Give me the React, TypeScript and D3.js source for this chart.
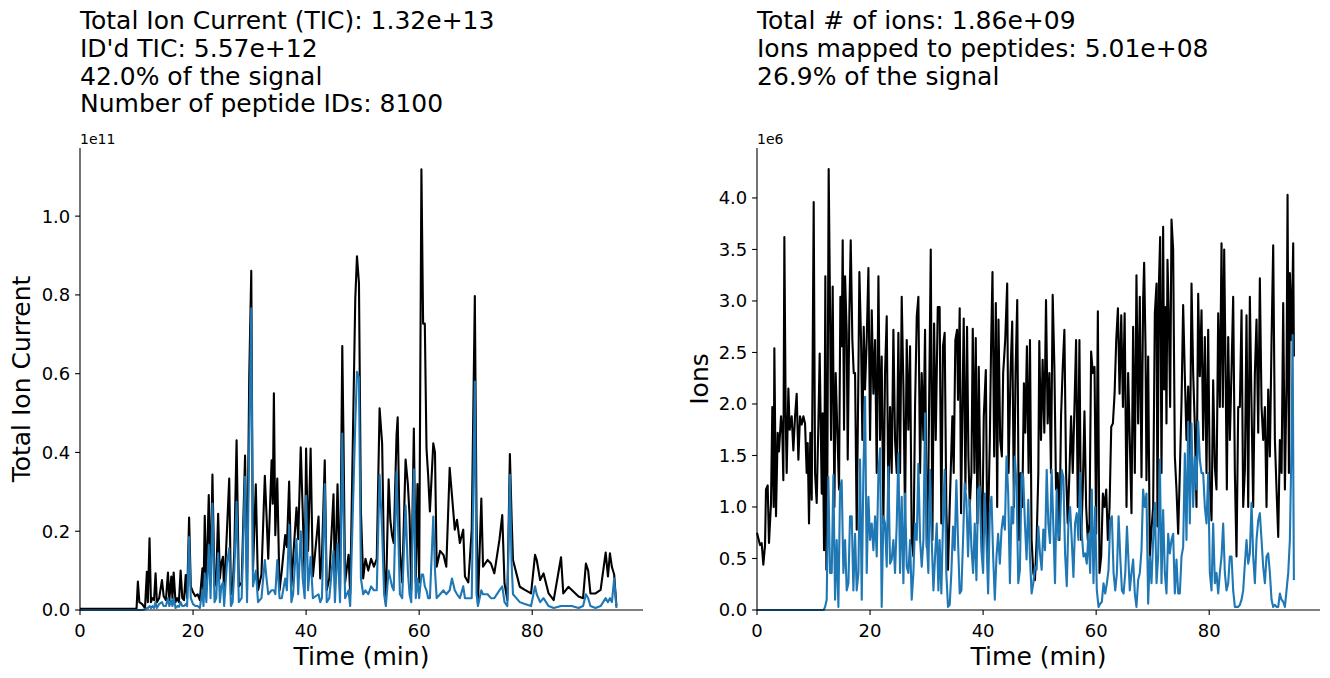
import React from 'react';
import * as d3 from 'd3';

// ---------- Left panel: Total Ion Current (values in units of 1e10) ----------
const ticTimes = [0, 10.0, 10.24, 10.5, 11.0, 11.5, 11.83, 12.0, 12.3, 12.55, 12.8, 13.1, 13.37, 13.6, 14.0, 14.5, 14.8, 15.2, 15.56, 15.8, 16.15, 16.35, 16.57, 16.9, 17.2, 17.5, 17.8, 18.1, 18.4, 18.7, 18.95, 19.3, 19.6, 20.0, 20.4, 20.8, 21.2, 21.66, 21.85, 22.07, 22.35, 22.78, 23.1, 23.43, 23.8, 24.1, 24.44, 24.75, 25.0, 25.3, 25.5, 26.0, 26.4, 26.7, 27.0, 27.3, 27.7, 28.1, 28.6, 29.2, 29.55, 29.94, 30.3, 30.6, 31.1, 31.5, 32.1, 32.7, 33.0, 33.3, 33.9, 34.1, 34.3, 34.55, 34.9, 35.3, 35.7, 36.3, 36.6, 37.0, 37.4, 37.7, 38.3, 38.6, 39.05, 39.4, 39.75, 40.0, 40.35, 40.8, 41.2, 42.2, 42.5, 42.8, 43.3, 43.65, 44.1, 44.85, 45.1, 45.56, 46.0, 46.4, 46.6, 46.9, 47.5, 47.8, 48.7, 49.0, 49.35, 49.7, 50.1, 50.5, 51.0, 51.5, 52.0, 52.5, 53.0, 53.45, 53.8, 54.1, 54.6, 54.9, 55.2, 55.5, 56.0, 56.2, 56.6, 57.0, 57.6, 58.0, 58.3, 58.6, 59.06, 59.4, 59.7, 60.0, 60.4, 60.7, 61.0, 61.3, 61.6, 61.9, 62.5, 62.8, 63.1, 63.7, 64.3, 64.8, 65.4, 65.8, 66.3, 66.7, 67.2, 67.8, 68.1, 68.7, 69.3, 69.85, 70.15, 70.4, 71.0, 71.3, 72.1, 72.7, 73.3, 74.2, 74.7, 75.1, 75.6, 76.05, 76.35, 76.6, 77.2, 77.8, 78.7, 79.8, 80.5, 80.8, 81.4, 82.0, 82.9, 83.8, 85.1, 85.5, 86.4, 87.0, 88.2, 89.0, 89.5, 89.9, 90.3, 91.2, 92.1, 93.0, 93.4, 93.75, 94.1, 94.5, 94.9];
const ticValues = [0.03, 0.03, 0.72, 0.2, 0.15, 0.05, 0.97, 0.2, 1.82, 0.2, 0.3, 0.25, 0.93, 0.2, 0.3, 0.76, 0.35, 0.25, 0.95, 0.25, 0.85, 0.3, 0.95, 0.2, 0.3, 0.2, 1.0, 0.3, 0.25, 0.89, 0.3, 2.35, 0.6, 0.45, 0.35, 0.4, 0.25, 1.06, 0.4, 2.39, 0.5, 2.92, 0.7, 3.44, 0.6, 0.8, 2.44, 0.8, 1.2, 1.35, 0.4, 2.03, 3.34, 0.4, 0.5, 1.5, 4.31, 0.6, 0.7, 3.92, 0.5, 5.92, 8.61, 1.0, 3.19, 0.5, 0.9, 3.41, 2.4, 1.3, 3.8, 2.7, 5.5, 1.9, 3.34, 0.5, 1.0, 1.9, 1.6, 3.26, 0.6, 1.3, 2.6, 1.8, 4.13, 2.5, 0.8, 4.1, 1.5, 4.1, 0.85, 2.37, 0.8, 1.35, 3.8, 0.5, 0.8, 2.94, 0.6, 3.19, 0.5, 6.7, 4.5, 0.7, 1.4, 0.4, 7.9, 8.98, 8.3, 2.5, 0.8, 1.3, 1.0, 1.3, 1.1, 1.3, 5.12, 4.23, 1.1, 0.2, 3.32, 2.28, 1.9, 1.7, 4.44, 4.89, 1.5, 0.7, 3.82, 3.2, 2.4, 0.5, 4.61, 0.7, 3.2, 0.7, 11.19, 7.27, 7.27, 4.1, 3.4, 2.5, 4.23, 4.0, 1.1, 1.5, 1.4, 1.1, 3.61, 2.92, 2.04, 2.29, 1.7, 2.04, 0.85, 0.7, 2.04, 7.97, 2.37, 0.17, 2.83, 1.1, 1.27, 1.18, 0.93, 1.78, 2.41, 0.68, 0.25, 3.96, 2.37, 1.27, 0.93, 0.59, 0.51, 0.42, 1.4, 1.27, 0.76, 0.93, 0.42, 0.25, 1.34, 0.42, 0.59, 0.51, 0.34, 0.3, 1.18, 1.0, 0.42, 0.42, 0.51, 1.46, 0.85, 1.44, 1.09, 0.9, 0.1];
const idTicValues = [0, 0, 0, 0, 0, 0.02, 0.05, 0.05, 0.1, 0.05, 0.1, 0.05, 0.2, 0.05, 0.15, 0.2, 0.1, 0.1, 0.3, 0.1, 0.25, 0.1, 0.3, 0.05, 0.1, 0.08, 0.2, 0.1, 0.1, 0.15, 0.1, 1.85, 0.3, 0.15, 0.1, 0.1, 0.05, 0.5, 0.1, 0.93, 0.2, 1.65, 0.3, 2.7, 0.2, 0.3, 1.44, 0.2, 0.6, 0.7, 0.1, 1.2, 1.57, 0.1, 0.2, 1.0, 2.75, 0.2, 0.3, 3.38, 0.2, 4.23, 7.66, 0.6, 1.0, 0.2, 0.3, 1.27, 0.8, 0.4, 0.5, 0.5, 0.5, 0.4, 1.27, 0.3, 0.3, 0.8, 0.5, 2.16, 0.2, 0.4, 1.8, 0.4, 2.0, 0.8, 0.3, 2.9, 0.5, 1.35, 0.3, 0.4, 0.2, 0.3, 3.2, 0.2, 0.3, 1.5, 0.2, 1.69, 0.2, 4.48, 2.5, 0.3, 0.5, 0.1, 4.74, 6.05, 5.9, 0.8, 0.4, 0.5, 0.4, 0.6, 0.5, 0.5, 3.43, 2.0, 0.4, 0.1, 1.0, 0.8, 0.6, 0.5, 3.5, 2.5, 0.4, 0.3, 2.66, 1.0, 0.4, 0.2, 3.57, 0.3, 0.8, 0.3, 0.9, 0.9, 0.6, 0.5, 0.3, 0.3, 2.37, 1.0, 0.3, 0.4, 0.5, 0.4, 0.5, 0.8, 0.5, 0.4, 0.3, 0.6, 0.3, 0.3, 0.3, 5.8, 0.4, 0.1, 0.5, 0.4, 0.4, 0.3, 0.3, 0.5, 0.6, 0.2, 0.1, 3.43, 1.2, 0.4, 0.3, 0.2, 0.15, 0.1, 0.6, 0.4, 0.2, 0.3, 0.1, 0.05, 0.1, 0.1, 0.1, 0.1, 0.05, 0.1, 0.4, 0.3, 0.1, 0.05, 0.1, 0.3, 0.2, 0.3, 0.2, 0.8, 0.05];

// ---------- Right panel: number of ions (values in units of 1e6) ----------
const ionTimes = [0, 0.53, 0.83, 1.12, 1.42, 1.59, 1.89, 2.12, 2.48, 2.71, 2.95, 3.07, 3.36, 3.66, 3.89, 4.25, 4.48, 4.66, 4.84, 5.07, 5.25, 5.55, 5.78, 6.14, 6.43, 6.73, 7.02, 7.32, 7.61, 7.91, 8.2, 8.5, 8.79, 8.97, 9.2, 9.44, 9.68, 10.03, 10.27, 10.56, 10.86, 11.09, 11.45, 11.62, 11.86, 12.09, 12.27, 12.45, 12.68, 12.92, 13.1, 13.39, 13.69, 13.92, 14.22, 14.51, 14.75, 14.98, 15.16, 15.4, 15.58, 15.87, 16.05, 16.34, 16.58, 16.87, 17.11, 17.35, 17.64, 17.94, 18.11, 18.41, 18.64, 18.88, 19.11, 19.41, 19.71, 20.0, 20.3, 20.59, 20.89, 21.18, 21.48, 21.77, 22.06, 22.36, 22.65, 22.95, 23.24, 23.54, 23.83, 24.13, 24.42, 24.72, 25.01, 25.31, 25.6, 25.9, 26.19, 26.49, 26.78, 27.08, 27.37, 27.67, 27.96, 28.26, 28.55, 28.85, 29.14, 29.44, 29.73, 30.03, 30.32, 30.74, 31.03, 31.33, 31.62, 31.98, 32.31, 32.61, 32.9, 33.2, 33.49, 33.79, 34.09, 34.56, 34.8, 35.09, 35.39, 35.56, 35.86, 36.1, 36.33, 36.57, 36.87, 37.16, 37.4, 37.64, 37.93, 38.17, 38.46, 38.7, 39.0, 39.23, 39.53, 39.82, 40.12, 40.48, 40.77, 41.19, 41.42, 41.66, 41.96, 42.25, 42.49, 42.72, 43.02, 43.32, 43.55, 43.91, 44.26, 44.5, 44.85, 45.15, 45.45, 45.74, 46.04, 46.33, 46.63, 46.93, 47.22, 47.46, 47.75, 48.05, 48.29, 48.58, 48.88, 49.17, 49.47, 49.77, 49.94, 50.24, 50.53, 50.83, 51.13, 51.42, 51.72, 52.01, 52.31, 52.61, 52.9, 53.2, 53.49, 53.79, 54.09, 54.38, 54.68, 54.97, 55.27, 55.56, 55.86, 56.16, 56.45, 56.75, 57.04, 57.34, 57.63, 57.93, 58.23, 58.52, 58.82, 59.11, 59.41, 59.71, 60.0, 60.3, 60.59, 60.89, 61.19, 61.48, 61.78, 62.07, 62.37, 62.67, 62.96, 63.26, 63.55, 63.85, 64.14, 64.44, 64.74, 65.04, 65.37, 65.66, 65.95, 66.25, 66.54, 66.84, 67.13, 67.43, 67.72, 68.02, 68.31, 68.49, 68.73, 68.9, 69.2, 69.49, 69.79, 70.08, 70.38, 70.68, 70.85, 71.09, 71.32, 71.56, 71.85, 72.03, 72.27, 72.44, 72.62, 72.86, 73.09, 73.33, 73.62, 73.92, 74.21, 74.51, 74.8, 75.1, 75.39, 75.69, 75.98, 76.28, 76.57, 76.87, 77.16, 77.46, 77.75, 78.05, 78.34, 78.64, 78.93, 79.23, 79.52, 79.82, 80.11, 80.41, 80.7, 81.0, 81.29, 81.59, 81.88, 82.18, 82.41, 82.65, 82.89, 83.12, 83.36, 83.65, 83.95, 84.24, 84.54, 84.83, 85.13, 85.42, 85.72, 86.01, 86.31, 86.6, 86.9, 87.19, 87.49, 87.78, 88.08, 88.37, 88.67, 88.96, 89.26, 89.55, 89.85, 90.14, 90.44, 90.73, 91.03, 91.32, 91.62, 91.91, 92.21, 92.5, 92.8, 93.09, 93.39, 93.68, 93.86, 94.1, 94.27, 94.57, 94.86, 94.98];
const ionValues = [0.75, 0.63, 0.65, 0.44, 0.63, 1.17, 1.21, 0.65, 1.04, 1.97, 1.0, 2.54, 0.91, 1.72, 1.54, 1.88, 1.72, 1.26, 3.62, 1.91, 1.33, 2.15, 1.75, 1.88, 1.55, 1.88, 2.1, 1.46, 1.88, 1.8, 1.88, 1.81, 1.33, 1.62, 0.84, 1.72, 1.07, 3.96, 1.33, 1.04, 1.81, 2.49, 1.13, 1.91, 0.58, 3.24, 0.39, 1.33, 4.28, 2.94, 1.65, 3.14, 1.0, 2.3, 1.72, 1.17, 3.04, 2.56, 3.59, 1.75, 3.24, 2.69, 1.46, 2.88, 3.59, 2.62, 2.3, 2.3, 0.78, 2.3, 3.28, 2.62, 1.65, 2.75, 2.14, 2.62, 3.32, 1.65, 2.91, 2.1, 2.62, 1.33, 3.24, 1.65, 2.46, 0.84, 2.3, 2.85, 1.0, 1.97, 1.33, 2.72, 1.65, 1.33, 2.69, 1.33, 3.04, 2.17, 0.91, 2.62, 1.75, 2.56, 0.68, 0.52, 1.97, 2.85, 3.04, 1.33, 2.3, 1.65, 2.72, 0.61, 1.33, 3.5, 0.68, 2.78, 1.65, 2.94, 2.94, 0.84, 2.56, 2.69, 1.0, 0.39, 1.0, 1.88, 1.33, 2.62, 2.72, 2.04, 2.93, 0.94, 1.91, 2.83, 1.17, 2.75, 1.49, 1.0, 1.33, 2.73, 1.33, 2.64, 0.84, 2.36, 1.17, 0.58, 1.88, 2.33, 0.52, 1.65, 2.59, 3.28, 1.49, 2.98, 1.0, 2.82, 1.65, 1.49, 2.3, 2.62, 3.17, 1.33, 2.3, 2.8, 1.0, 2.3, 3.01, 0.68, 1.33, 1.0, 2.2, 1.72, 2.56, 1.33, 2.62, 0.68, 0.36, 0.29, 0.68, 1.33, 2.61, 1.65, 2.43, 1.72, 3.01, 1.81, 2.3, 1.33, 3.06, 2.36, 1.17, 1.33, 0.68, 1.88, 2.36, 2.72, 1.33, 0.84, 1.33, 1.88, 1.33, 1.97, 2.62, 1.0, 2.62, 0.68, 1.17, 1.93, 1.0, 0.68, 0.84, 2.51, 2.3, 2.36, 0.74, 2.9, 0.36, 0.52, 1.13, 1.0, 1.17, 0.68, 1.0, 1.78, 1.81, 2.1, 2.62, 2.93, 2.1, 2.86, 1.97, 2.88, 1.0, 2.3, 1.65, 0.94, 2.75, 1.33, 3.25, 1.81, 3.04, 1.29, 3.01, 3.37, 2.56, 1.26, 2.46, 0.52, 0.78, 1.0, 2.88, 3.17, 0.81, 3.14, 3.62, 1.33, 3.72, 2.14, 2.94, 1.81, 3.4, 2.82, 1.97, 3.79, 3.5, 1.49, 1.17, 0.74, 1.33, 2.01, 2.96, 2.27, 1.65, 2.17, 1.33, 3.17, 2.3, 1.78, 1.0, 3.07, 2.27, 2.91, 1.65, 2.65, 1.33, 2.72, 1.23, 0.87, 2.23, 1.39, 1.17, 2.88, 1.97, 3.56, 1.97, 3.5, 2.36, 1.17, 2.65, 1.65, 2.33, 3.04, 1.33, 0.52, 1.97, 1.97, 2.91, 1.0, 1.36, 2.86, 1.0, 3.04, 1.97, 1.0, 2.3, 2.82, 1.72, 3.22, 1.97, 1.65, 1.97, 1.0, 2.14, 1.49, 2.62, 3.54, 1.65, 1.17, 0.71, 1.65, 1.33, 2.98, 1.17, 2.23, 4.03, 1.33, 3.27, 2.62, 3.56, 2.46];

const mappedTimes = [0, 11.8, 12.04, 12.33, 12.62, 12.92, 13.22, 13.51, 13.81, 14.1, 14.4, 14.69, 14.98, 15.28, 15.58, 15.87, 16.17, 16.46, 16.76, 17.05, 17.35, 17.64, 17.94, 18.23, 18.53, 18.82, 19.12, 19.41, 19.71, 20.0, 20.3, 20.59, 20.89, 21.18, 21.48, 21.77, 22.06, 22.36, 22.65, 22.95, 23.24, 23.54, 23.83, 24.13, 24.42, 24.72, 25.01, 25.31, 25.6, 25.9, 26.19, 26.49, 26.78, 27.08, 27.37, 27.67, 27.96, 28.26, 28.55, 28.85, 29.14, 29.44, 29.73, 30.03, 30.32, 30.62, 30.91, 31.21, 31.5, 31.8, 32.09, 32.31, 32.61, 32.9, 33.2, 33.49, 33.79, 34.09, 34.38, 34.68, 34.97, 35.27, 35.56, 35.86, 36.16, 36.45, 36.75, 37.04, 37.34, 37.64, 37.93, 38.23, 38.52, 38.82, 39.11, 39.41, 39.7, 40.0, 40.3, 40.59, 40.89, 41.19, 41.48, 41.78, 42.07, 42.37, 42.66, 42.96, 43.26, 43.55, 43.85, 44.14, 44.44, 44.74, 45.03, 45.33, 45.62, 45.92, 46.22, 46.51, 46.81, 47.1, 47.4, 47.69, 47.99, 48.28, 48.58, 48.88, 49.17, 49.47, 49.77, 50.06, 50.36, 50.65, 50.95, 51.25, 51.54, 51.84, 52.13, 52.43, 52.72, 53.02, 53.32, 53.61, 53.91, 54.2, 54.5, 54.8, 55.09, 55.39, 55.68, 55.98, 56.27, 56.57, 56.87, 57.16, 57.46, 57.75, 58.05, 58.34, 58.64, 58.94, 59.23, 59.53, 59.82, 60.12, 60.42, 60.71, 61.01, 61.3, 61.6, 61.9, 62.19, 62.49, 62.78, 63.08, 63.38, 63.67, 63.97, 64.26, 64.56, 64.85, 65.15, 65.45, 65.95, 66.25, 66.54, 66.84, 67.13, 67.43, 67.72, 68.02, 68.31, 68.61, 68.9, 69.2, 69.49, 69.79, 70.08, 70.38, 70.68, 70.97, 71.27, 71.56, 71.85, 72.15, 72.44, 72.74, 73.03, 73.33, 73.62, 73.92, 74.21, 74.51, 74.8, 75.1, 75.39, 75.69, 75.98, 76.28, 76.57, 76.87, 77.16, 77.46, 77.75, 78.05, 78.34, 78.64, 78.93, 79.23, 79.52, 79.82, 80.11, 80.41, 80.7, 81.0, 81.29, 81.59, 81.88, 82.18, 82.47, 82.77, 83.06, 83.36, 83.65, 83.95, 84.24, 84.54, 84.83, 85.13, 85.42, 85.72, 86.01, 86.31, 86.6, 86.9, 87.19, 87.49, 87.78, 88.08, 88.37, 88.67, 88.96, 89.26, 89.55, 89.85, 90.14, 90.44, 90.73, 91.03, 91.32, 91.62, 91.91, 92.21, 92.5, 92.8, 93.09, 93.39, 93.68, 93.98, 94.27, 94.57, 94.75, 94.98];
const mappedValues = [0, 0, 0.03, 0.1, 1.29, 0.36, 0.36, 1.31, 0.1, 0.68, 0.03, 1.17, 1.26, 0.36, 0.68, 0.19, 0.26, 0.91, 0.91, 0.19, 0.74, 0.19, 0.36, 1.46, 0.1, 1.33, 2.07, 0.36, 1.1, 0.68, 0.84, 0.58, 0.91, 0.52, 1.33, 1.57, 0.03, 0.91, 0.84, 0.42, 1.39, 0.45, 0.49, 0.68, 0.36, 0.84, 1.52, 0.36, 1.1, 0.26, 1.13, 0.42, 0.36, 0.68, 0.1, 0.36, 0.84, 0.68, 1.42, 0.68, 0.42, 0.68, 1.91, 0.68, 0.36, 1.36, 0.68, 0.19, 0.52, 0.84, 0.19, 0.68, 0.16, 0.84, 1.36, 0.36, 0.03, 0.05, 0.36, 0.81, 0.58, 1.26, 0.68, 0.16, 0.19, 0.68, 1.23, 1.07, 0.52, 1.07, 0.61, 0.36, 0.84, 0.29, 1.17, 1.2, 0.58, 0.36, 1.13, 0.68, 0.16, 0.94, 1.1, 0.52, 0.1, 0.52, 0.74, 0.45, 0.78, 0.91, 0.78, 1.49, 1.13, 0.26, 1.0, 0.84, 1.49, 1.2, 0.26, 0.39, 1.33, 1.29, 0.84, 0.49, 1.07, 0.52, 0.16, 0.26, 0.42, 0.39, 0.81, 0.55, 0.39, 0.78, 0.58, 1.36, 0.84, 0.65, 1.36, 0.81, 0.26, 1.17, 0.68, 0.81, 1.36, 1.29, 0.55, 0.23, 0.84, 1.0, 0.68, 0.32, 0.84, 0.94, 0.68, 1.33, 0.74, 0.52, 0.55, 0.45, 0.74, 0.36, 1.17, 0.26, 1.0, 0.19, 0.03, 0.06, 0.08, 0.26, 0.16, 0.26, 0.39, 0.87, 0.91, 0.36, 0.19, 0.36, 0.91, 0.52, 0.19, 0.16, 0.36, 0.81, 0.19, 0.36, 0.49, 0.16, 0.03, 0.29, 0.36, 0.58, 1.17, 1.0, 1.13, 0.06, 0.52, 0.26, 0.68, 1.04, 0.26, 0.52, 1.46, 0.26, 0.97, 0.36, 0.16, 0.74, 0.55, 0.68, 0.74, 0.16, 0.49, 0.16, 0.16, 0.52, 0.61, 1.52, 0.68, 1.83, 0.84, 1.81, 1.0, 1.49, 1.17, 1.83, 1.46, 1.33, 1.33, 1.0, 0.84, 1.33, 0.36, 0.19, 0.84, 0.26, 0.36, 0.16, 0.36, 0.52, 0.84, 0.36, 0.19, 0.26, 0.52, 0.52, 0.19, 0.03, 0.03, 0.03, 0.05, 0.1, 0.19, 0.45, 0.68, 0.45, 0.55, 1.04, 0.52, 0.26, 0.68, 0.87, 0.94, 0.68, 0.42, 0.26, 0.52, 0.55, 0.36, 0.1, 0.03, 0.05, 0.03, 0.03, 0.16, 0.1, 0.08, 0.03, 0.19, 0.36, 0.68, 1.65, 2.67, 0.29];

// ---------- Text and ticks ----------
const leftTitleLines = ["Total Ion Current (TIC): 1.32e+13", "ID'd TIC: 5.57e+12", "42.0% of the signal", "Number of peptide IDs: 8100"];
const rightTitleLines = ["Total # of ions: 1.86e+09", "Ions mapped to peptides: 5.01e+08", "26.9% of the signal"];
const timeTicks = [0, 20, 40, 60, 80];
const ticTicks = [0, 0.2, 0.4, 0.6, 0.8, 1.0];
const ionTicks = [0, 0.5, 1.0, 1.5, 2.0, 2.5, 3.0, 3.5, 4.0];

const FONT = "'DejaVu Sans', sans-serif";
const BLACK = '#000000';
const BLUE = '#1f77b4';

type Series = { times: number[]; values: number[]; color: string };

function Panel(props: {
  left: number; right: number; top: number; bottom: number;
  xMax: number; yMax: number; unit: number; offsetUnit: number; offsetLabel: string;
  series: Series[]; yTicks: number[]; yLabel: string; yLabelX: number; title: string[];
}) {
  const { left, right, top, bottom, xMax, yMax, unit, offsetUnit, offsetLabel, series, yTicks, yLabel, yLabelX, title } = props;
  const x = d3.scaleLinear().domain([0, xMax]).range([left, right]);
  const y = d3.scaleLinear().domain([0, yMax]).range([bottom, top]);
  const paths = series.map((s) => {
    const pts: [number, number][] = s.times.map((t, i) => [t, s.values[i] * unit]);
    const line = d3.line<[number, number]>().x((d) => x(d[0])).y((d) => y(d[1]));
    return { d: line(pts) || '', color: s.color };
  });
  return (
    <g>
      {title.map((t, i) => (
        <text key={i} x={left} y={29 + i * 27.8} fontSize={25} fontFamily={FONT} fill="#000">{t}</text>
      ))}
      {paths.map((p, i) => (
        <path key={i} d={p.d} fill="none" stroke={p.color} strokeWidth={2.1} strokeLinejoin="round" strokeLinecap="butt" />
      ))}
      <line x1={left} x2={left} y1={top} y2={bottom} stroke="#000" strokeWidth={1.1} />
      <line x1={left} x2={right} y1={bottom} y2={bottom} stroke="#000" strokeWidth={1.1} />
      {timeTicks.map((t) => (
        <g key={t}>
          <line x1={x(t)} x2={x(t)} y1={bottom} y2={bottom + 4.9} stroke="#000" strokeWidth={1.1} />
          <text x={x(t)} y={637} fontSize={18} fontFamily={FONT} textAnchor="middle" fill="#000">{t}</text>
        </g>
      ))}
      {yTicks.map((v) => (
        <g key={v}>
          <line x1={left - 4.9} x2={left} y1={y(v * offsetUnit)} y2={y(v * offsetUnit)} stroke="#000" strokeWidth={1.1} />
          <text x={left - 9.7} y={y(v * offsetUnit)} dy="0.36em" fontSize={18} fontFamily={FONT} textAnchor="end" fill="#000">{v.toFixed(1)}</text>
        </g>
      ))}
      <text x={left} y={144} fontSize={14} fontFamily={FONT} fill="#000">{offsetLabel}</text>
      <text x={(left + right) / 2} y={665} fontSize={25} fontFamily={FONT} textAnchor="middle" fill="#000">Time (min)</text>
      <text transform={`translate(${yLabelX},${(top + bottom) / 2}) rotate(-90)`} fontSize={25} fontFamily={FONT} textAnchor="middle" fill="#000">{yLabel}</text>
    </g>
  );
}

export default function App() {
  return (
    <svg width={1330} height={678} style={{ position: 'absolute', left: 0, top: 0, background: '#fff' }}>
      <rect x={0} y={0} width={1330} height={678} fill="#fff" />
      <Panel left={80} right={643} top={148} bottom={610} xMax={99.6} yMax={1.173e11} unit={1e10} offsetUnit={1e11} offsetLabel="1e11"
        series={[{ times: ticTimes, values: ticValues, color: BLACK }, { times: ticTimes, values: idTicValues, color: BLUE }]}
        yTicks={ticTicks} yLabel="Total Ion Current" yLabelX={29.5} title={leftTitleLines} />
      <Panel left={757} right={1320} top={148} bottom={610} xMax={99.6} yMax={4.485e6} unit={1e6} offsetUnit={1e6} offsetLabel="1e6"
        series={[{ times: ionTimes, values: ionValues, color: BLACK }, { times: mappedTimes, values: mappedValues, color: BLUE }]}
        yTicks={ionTicks} yLabel="Ions" yLabelX={708} title={rightTitleLines} />
    </svg>
  );
}
